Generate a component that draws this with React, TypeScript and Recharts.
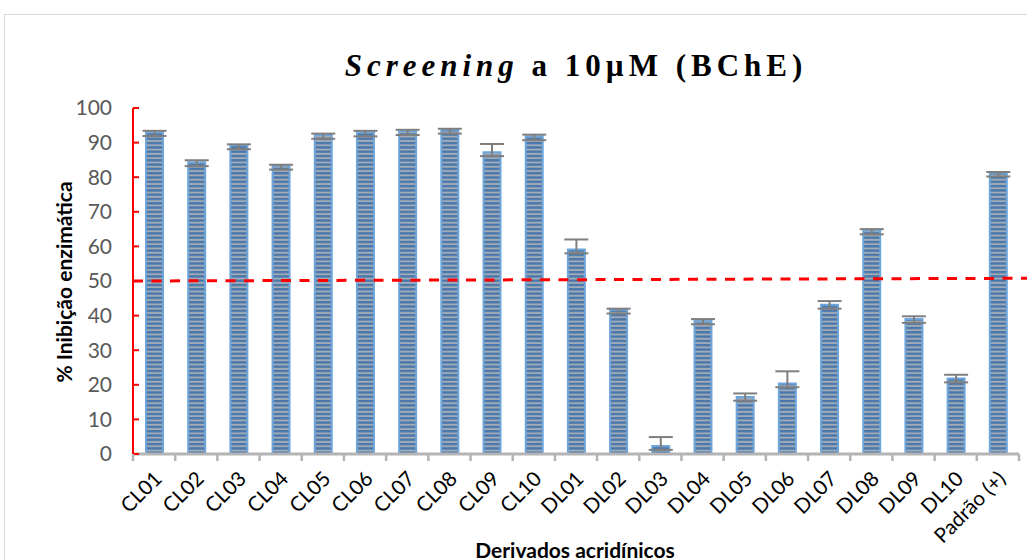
import { Bar, BarChart, ErrorBar, ReferenceLine, XAxis, YAxis } from "recharts";

const categories = [
  "CL01", "CL02", "CL03", "CL04", "CL05", "CL06", "CL07", "CL08", "CL09", "CL10",
  "DL01", "DL02", "DL03", "DL04", "DL05", "DL06", "DL07", "DL08", "DL09", "DL10",
  "Padrão (+)",
];
const inhibition = [
  93.0, 84.3, 89.2, 83.3, 92.2, 92.9, 93.3, 93.7, 87.2, 91.8,
  59.1, 41.7, 2.3, 38.6, 16.5, 20.4, 43.1, 64.6, 39.0, 21.8,
  81.3,
];
const errorUp = [
  0.4, 0.6, 0.3, 0.3, 0.4, 0.5, 0.4, 0.3, 2.4, 0.5,
  2.9, 0.3, 2.6, 0.4, 1.0, 3.5, 1.1, 0.4, 0.8, 1.1,
  0.2,
];
const errorDown = [
  1.1, 1.1, 1.1, 1.1, 1.1, 1.1, 1.1, 1.1, 1.1, 1.1,
  1.1, 1.1, 1.1, 1.1, 1.1, 1.1, 1.1, 1.1, 1.1, 1.1,
  1.1,
];
const yTicks = [0, 10, 20, 30, 40, 50, 60, 70, 80, 90, 100];
// hand-drawn 50% threshold, slightly tilted in the original
const thresholdStart = 50;
const thresholdEnd = 50.8;
const thresholdSpan = [0, 20.67];

const data = categories.map((name, i) => ({
  name,
  value: inhibition[i],
  err: [errorDown[i], errorUp[i]],
}));

const FONT = "Lato, 'Open Sans', sans-serif";
const AXIS_GRAY = "#b4b4b4";

// label rotated like Excel, plus the tick mark between categories
function XTick(props: any) {
  const { x, y, payload, index, visibleTicksCount } = props;
  const half = payload?.offset ?? 0;
  const isLast = index === visibleTicksCount - 1;
  return (
    <g>
      <line x1={x - half} x2={x - half} y1={y} y2={y + 7} stroke={AXIS_GRAY} strokeWidth={2.5} />
      {isLast && <line x1={x + half} x2={x + half} y1={y} y2={y + 7} stroke={AXIS_GRAY} strokeWidth={2.5} />}
      <text
        transform={`translate(${x + 9},${y + 26}) rotate(-45)`}
        textAnchor="end"
        fontFamily={FONT}
        fontSize={20.5}
        fill="#000"
      >
        {payload.value}
      </text>
    </g>
  );
}

export default function App() {
  return (
    <div style={{ position: "fixed", left: 0, top: 0, width: 1027, height: 560, overflow: "hidden", background: "#fff" }}>
      <svg width={0} height={0} style={{ position: "absolute" }}>
        <defs>
          <pattern id="hstripes" patternUnits="userSpaceOnUse" width={8} height={4.3}>
            <rect width={8} height={4.3} fill="#a2abb6" />
            <rect width={8} height={2.4} fill="#4a78ac" />
          </pattern>
        </defs>
      </svg>
      <div
        style={{
          position: "absolute",
          left: 4,
          top: 14,
          width: 1100,
          height: 700,
          border: "1px solid #d9d9d9",
        }}
      />
      <div
        style={{
          position: "absolute",
          left: 0,
          width: 1152,
          top: 48,
          textAlign: "center",
          fontFamily: "'Liberation Serif', 'Times New Roman', serif",
          fontWeight: "bold",
          fontSize: 31,
          letterSpacing: 5,
          color: "#000",
        }}
      >
        <i>Screening</i> a 10µM (BChE)
      </div>
      <div
        style={{
          position: "absolute",
          left: 63,
          top: 282,
          transform: "translate(-50%, -50%) rotate(-90deg)",
          whiteSpace: "nowrap",
          fontFamily: FONT,
          fontWeight: "bold",
          fontSize: 21,
          color: "#000",
        }}
      >
        % Inibição enzimática
      </div>
      <div
        style={{
          position: "absolute",
          left: 575,
          top: 549,
          transform: "translate(-50%, -50%)",
          whiteSpace: "nowrap",
          fontFamily: FONT,
          fontWeight: "bold",
          fontSize: 21,
          color: "#000",
        }}
      >
        Derivados acridínicos
      </div>
      <div style={{ position: "absolute", left: 0, top: 0 }}>
        <BarChart
          width={1027}
          height={560}
          data={data}
          margin={{ top: 108, right: 8, bottom: 26, left: 73 }}
        >
          <XAxis
            dataKey="name"
            interval={0}
            height={80}
            axisLine={{ stroke: AXIS_GRAY, strokeWidth: 3 }}
            tickLine={false}
            tickSize={0}
            tickMargin={0}
            tick={<XTick />}
          />
          <XAxis xAxisId="num" type="number" domain={[0, 21]} hide allowDataOverflow />
          <YAxis
            domain={[0, 100]}
            ticks={yTicks}
            width={60}
            interval={0}
            axisLine={{ stroke: "#ff0000", strokeWidth: 2 }}
            tickLine={{ stroke: "#ff0000", strokeWidth: 2 }}
            tickSize={-6}
            tickMargin={27}
            tick={{ fill: "#595959", fontSize: 21, fontFamily: FONT }}
          />
          <Bar
            dataKey="value"
            barSize={17}
            fill="url(#hstripes)"
            stroke="#6ea6dc"
            strokeWidth={2}
            isAnimationActive={false}
          >
            <ErrorBar dataKey="err" width={12} stroke="#7f7f7f" strokeWidth={2} direction="y" />
          </Bar>
          <ReferenceLine
            xAxisId="num"
            segment={[
              { x: thresholdSpan[0], y: thresholdStart },
              { x: thresholdSpan[1], y: thresholdEnd },
            ]}
            stroke="#ff0000"
            strokeWidth={3}
            strokeDasharray="10 8.5"
            ifOverflow="visible"
          />
        </BarChart>
      </div>
    </div>
  );
}
